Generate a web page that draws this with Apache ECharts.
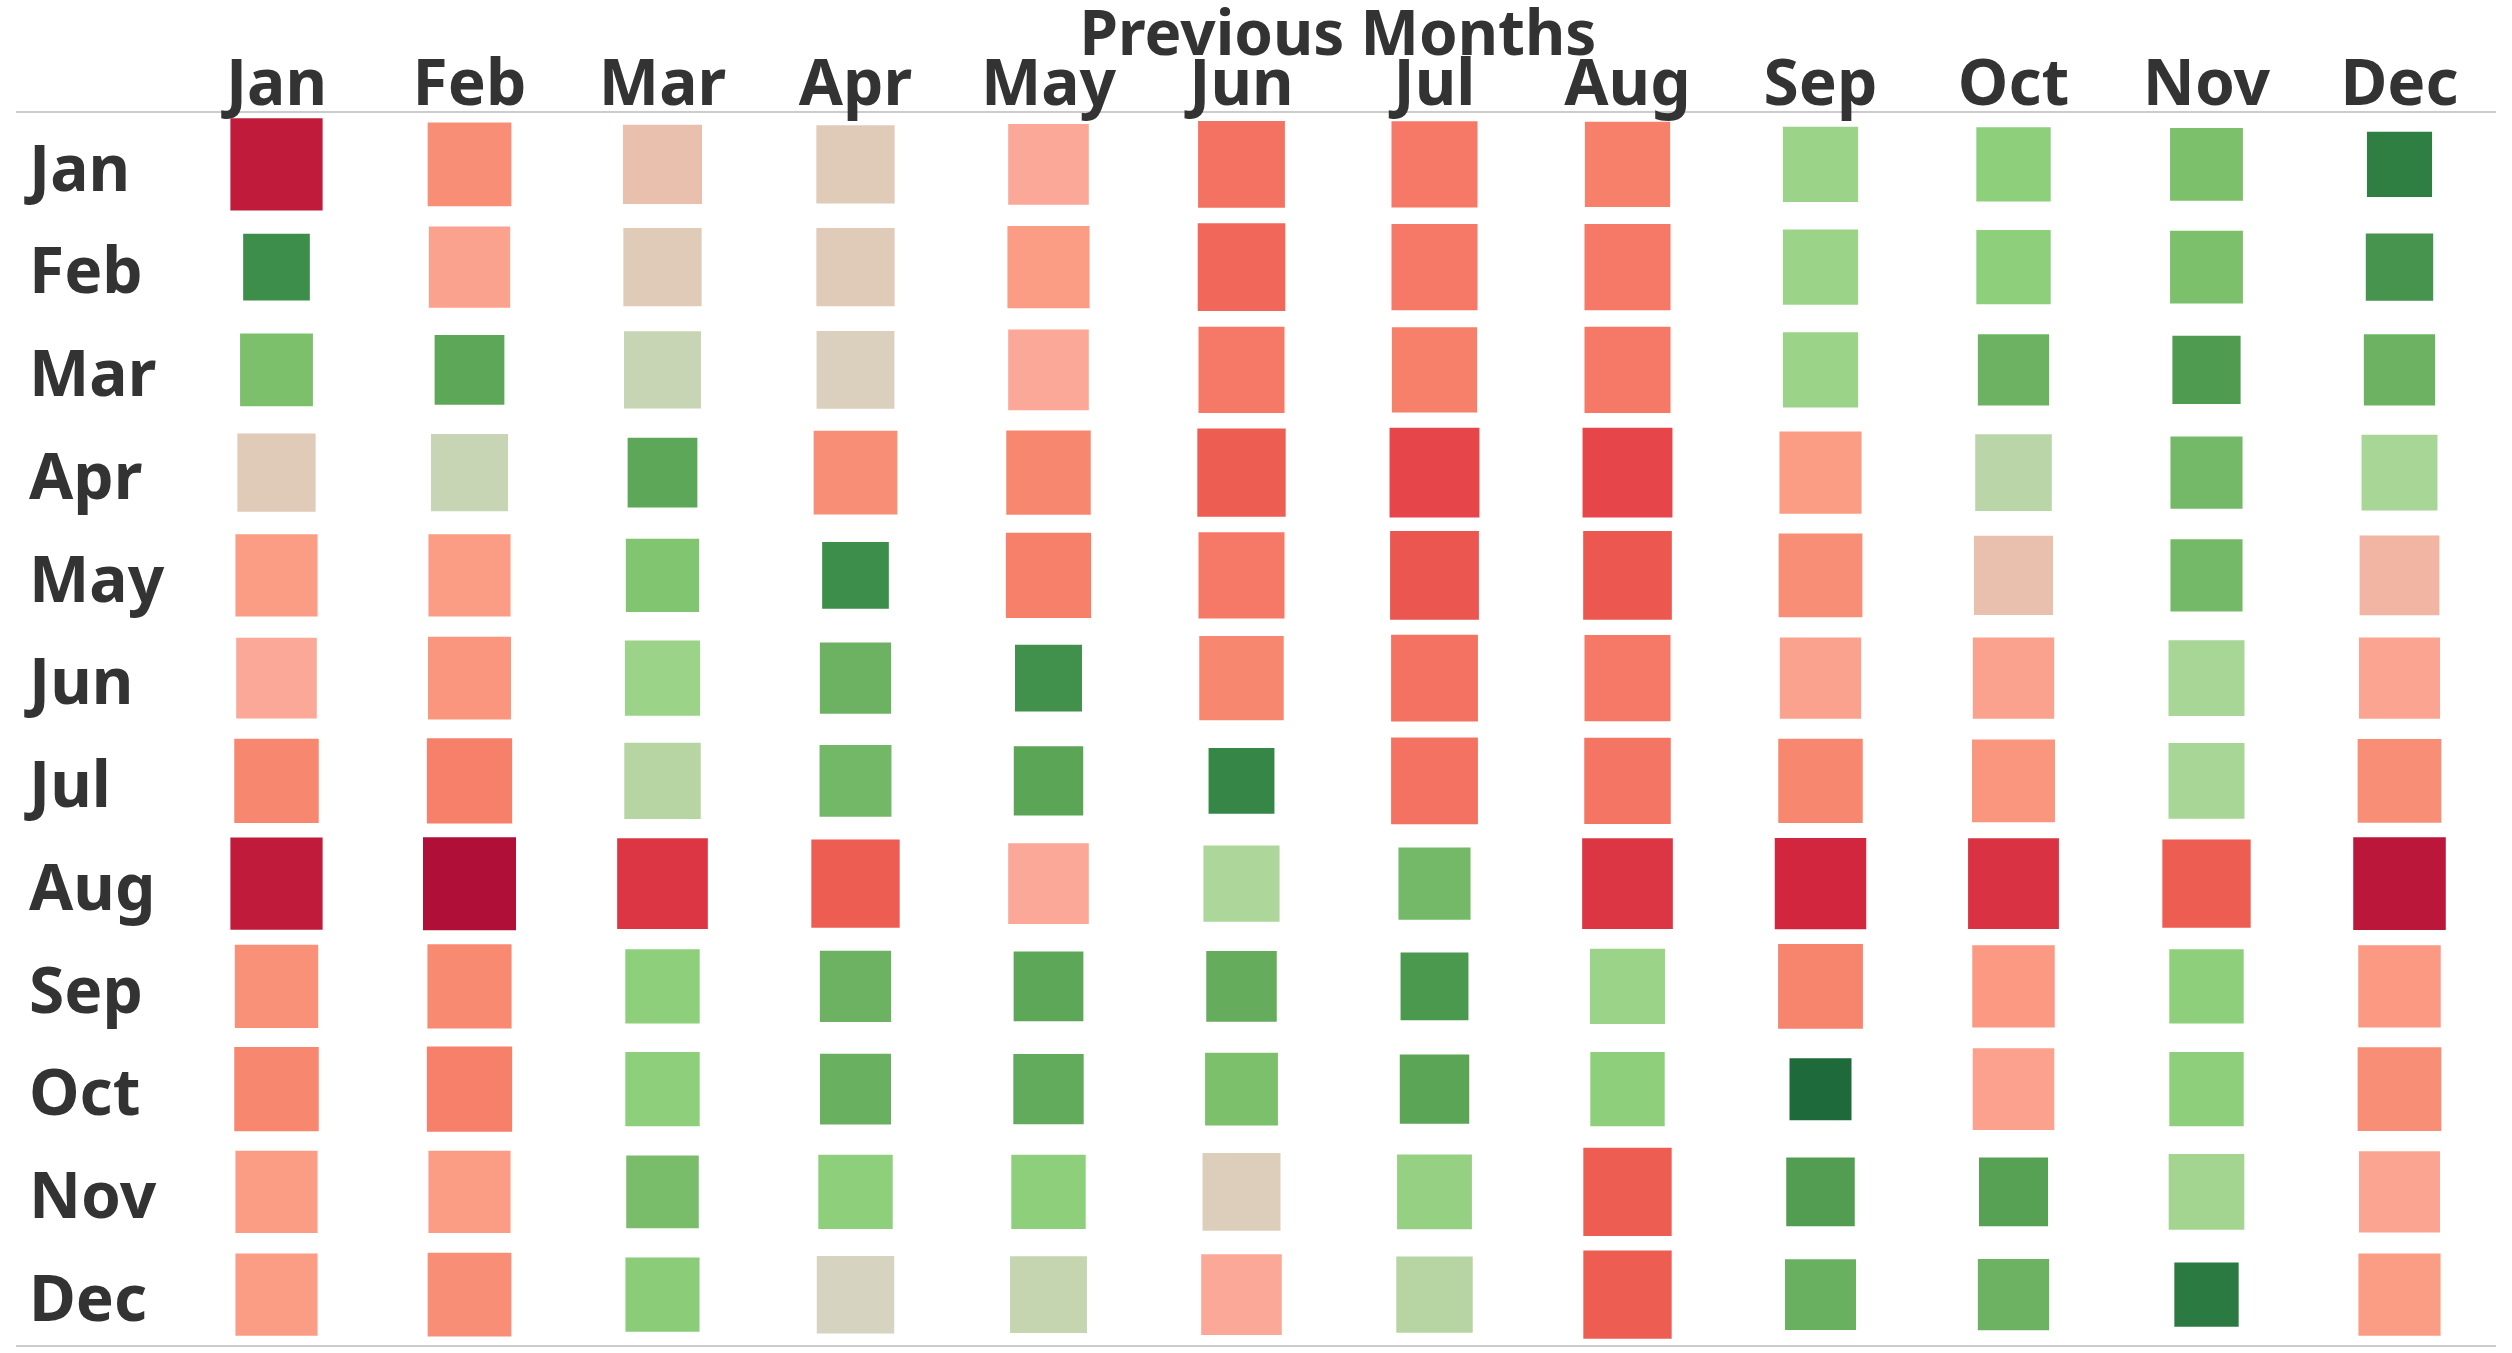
<!DOCTYPE html>
<html><head><meta charset="utf-8">
<script src="https://cdn.jsdelivr.net/npm/echarts@6/dist/echarts.min.js"></script>
<style>html,body{margin:0;padding:0;background:#fff}#c{width:2512px;height:1353px}</style>
</head><body><div id="c"></div>
<script>
// Categories (columns = previous month, rows = current month)
const months = ['Jan','Feb','Mar','Apr','May','Jun','Jul','Aug','Sep','Oct','Nov','Dec'];
const xTitle = 'Previous Months';

// Change score per cell (negative = green, positive = red), one array per row
const rowJan = [9.5, 4, 1, 0.5, 2, 6, 5.5, 5, -1.5, -2, -3, -8];
const rowFeb = [-7, 2.5, 0.5, 0.5, 3, 6.5, 5.5, 5.5, -1.5, -2, -3, -6.5];
const rowMar = [-3, -5, -0.3, 0.2, 2, 5.5, 5, 5.5, -1.5, -4, -6, -4];
const rowApr = [0.5, -0.3, -5, 4, 4.5, 7, 8, 8, 3, -0.6, -3.5, -1];
const rowMay = [3, 3, -2.7, -7, 5, 5.5, 7.3, 7.2, 4, 1, -3.5, 1.5];
const rowJun = [2, 3.5, -1.5, -4, -6.8, 4.5, 6, 5.5, 2.5, 2.5, -1, 2.3];
const rowJul = [4.5, 5, -0.7, -3.6, -5.2, -7.5, 6, 5.8, 4.5, 3.5, -1, 4];
const rowAug = [9.5, 10, 8.5, 7, 2, -0.9, -3.5, 8.5, 9, 8.6, 7, 9.7];
const rowSep = [3.8, 4.3, -2, -4, -5, -4.5, -6.2, -1.5, 4.7, 3.2, -2, 3.2];
const rowOct = [4.5, 5, -2, -4.2, -4.6, -3, -5.2, -2, -10, 2.6, -2, 4];
const rowNov = [3, 3, -3.2, -2, -2, 0.3, -1.7, 7, -5.8, -5.5, -1.2, 2.3];
const rowDec = [3, 4, -2.2, 0, -0.4, 2, -0.7, 7, -4.2, -4, -8.5, 3];

const rows = [rowJan, rowFeb, rowMar, rowApr, rowMay, rowJun, rowJul, rowAug, rowSep, rowOct, rowNov, rowDec];
const data = [];
rows.forEach((r, yi) => r.forEach((v, xi) => data.push([xi, yi, v])));

const palette = ['#1f6a3b','#277540','#2f7f43','#3d8d4b','#4f9b50','#5da758','#6cb262','#7cc06c','#8ecf7b','#a8d696',
                 '#d6d4c1',
                 '#e9bfae','#fba898','#fb9c85','#f98e76','#f68069','#f37262','#ee5d52','#e6454a','#d1263e','#b01038'];

const font = {fontFamily: 'Noto Sans', fontWeight: 'bold', color: '#333333', fontSize: 64};

const chart = echarts.init(document.getElementById('c'), null, {renderer: 'canvas'});
chart.setOption({
  animation: false,
  backgroundColor: '#ffffff',
  grid: {left: 180, right: 16, top: 113, bottom: 7, outerBoundsMode: 'none', containLabel: false},
  xAxis: {
    type: 'category', position: 'top', data: months,
    axisLine: {show: false}, axisTick: {show: false}, splitLine: {show: false},
    axisLabel: Object.assign({margin: -6}, font),
    name: xTitle, nameLocation: 'middle', nameGap: 76, nameMoveOverlap: false,
    nameTextStyle: Object.assign({}, font, {fontSize: 62, verticalAlign: 'middle'})
  },
  yAxis: {
    type: 'category', inverse: true, data: months,
    axisLine: {show: false}, axisTick: {show: false}, splitLine: {show: false},
    axisLabel: Object.assign({margin: 151, align: 'left', formatter: '{v|{value}}',
      rich: {v: Object.assign({padding: [16, 0, 0, 0]}, font)}}, font)
  },
  visualMap: [
    {type: 'continuous', show: false, dimension: 2, min: -10, max: 10, seriesIndex: 0, inRange: {color: palette}},
    {type: 'continuous', show: false, dimension: 2, min: -10, max: 10, seriesIndex: 0, inRange: {symbolSize: [62, 93]}}
  ],
  graphic: [
    {type: 'line', z: 0, shape: {x1: 16, y1: 112, x2: 2496, y2: 112}, style: {stroke: '#cccccc', lineWidth: 2}},
    {type: 'line', z: 0, shape: {x1: 16, y1: 1346, x2: 2496, y2: 1346}, style: {stroke: '#cccccc', lineWidth: 2}}
  ],
  series: [{
    type: 'scatter', symbol: 'rect', data: data,
    itemStyle: {opacity: 1},
    emphasis: {disabled: true}
  }]
});
</script></body></html>
